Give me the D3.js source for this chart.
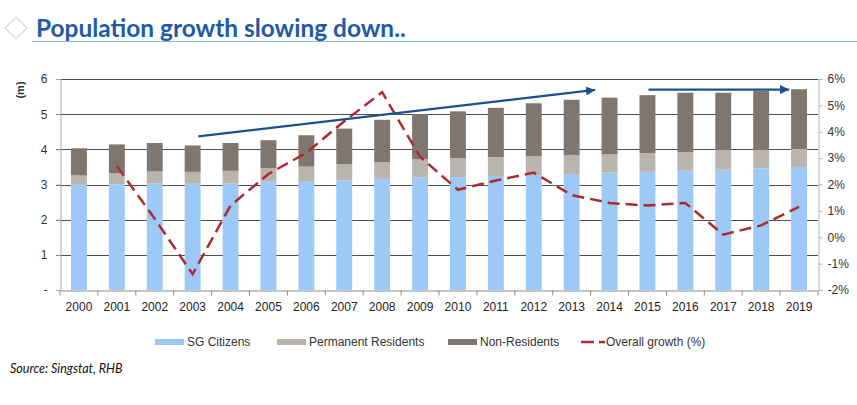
<!DOCTYPE html>
<html>
<head>
<meta charset="utf-8">
<script src="https://cdn.jsdelivr.net/npm/d3@7"></script>
<style>
  html, body { margin: 0; padding: 0; background: #fff; }
  svg { display: block; }
</style>
</head>
<body>
<svg id="chart" width="857" height="405"></svg>
<script>
// ---- DATA ----
const years = ["2000","2001","2002","2003","2004","2005","2006","2007","2008","2009",
               "2010","2011","2012","2013","2014","2015","2016","2017","2018","2019"];
const citizens = [2.99, 3.00, 3.03, 3.02, 3.03, 3.08, 3.10, 3.12, 3.16, 3.20,
                  3.21, 3.24, 3.27, 3.30, 3.34, 3.36, 3.39, 3.42, 3.46, 3.50];
const permanentResidents = [0.27, 0.32, 0.34, 0.34, 0.36, 0.38, 0.41, 0.46, 0.48, 0.52,
                            0.54, 0.54, 0.53, 0.54, 0.52, 0.53, 0.53, 0.55, 0.52, 0.51];
const nonResidents = [0.77, 0.82, 0.81, 0.75, 0.79, 0.80, 0.89, 1.01, 1.20, 1.28,
                      1.33, 1.40, 1.51, 1.57, 1.61, 1.65, 1.69, 1.64, 1.68, 1.70];
const overallGrowth = [null, 2.7, 0.7, -1.4, 1.2, 2.4, 3.2, 4.4, 5.5, 3.05,
                       1.8, 2.15, 2.45, 1.6, 1.3, 1.2, 1.3, 0.1, 0.45, 1.15];
const leftTicks = [0, 1, 2, 3, 4, 5, 6];
const rightTicks = [-2, -1, 0, 1, 2, 3, 4, 5, 6];
const seriesNames = ["SG Citizens", "Permanent Residents", "Non-Residents", "Overall growth (%)"];
// trend arrows: fractional category index and value (m)
const trendArrows = [
  { i0: 3.15, v0: 4.37, i1: 13.62, v1: 5.69 },
  { i0: 15.03, v0: 5.70, i1: 18.74, v1: 5.70 }
];
const titleText = "Population growth slowing down..";
const sourceText = "Source: Singstat, RHB";

// ---- STYLE ----
const colors = { cit: "#9dc9f7", pr: "#bab4af", nr: "#7f7670", line: "#ab2b2f", arrow: "#1d4f8f" };
const margin = { left: 60, right: 857 - 818, top: 79, bottom: 405 - 290 };
const W = 857, H = 405;

const svg = d3.select("#chart");

// Title
svg.append("path")
  .attr("d", "M16,17 L27,28 L16,39 L5,28 Z")
  .attr("fill", "none").attr("stroke", "#d6d6d6").attr("stroke-width", 1.2);
const title = svg.append("text")
  .attr("x", 36).attr("y", 37)
  .attr("font-family", "Lato, 'Open Sans', sans-serif")
  .attr("font-weight", "bold")
  .attr("font-size", 24)
  .attr("fill", "#1f5aa6")
  .text(titleText);
const tw = title.node().getComputedTextLength();
title.attr("font-size", 24 * 370 / tw);
svg.append("line").attr("x1", 32).attr("x2", 857).attr("y1", 41.5).attr("y2", 41.5)
  .attr("stroke", "#7cc3d9").attr("stroke-width", 1);

// Scales
const x = d3.scaleBand().domain(years).range([margin.left, W - margin.right]).paddingInner(0.58).paddingOuter(0.29);
const y = d3.scaleLinear().domain([0, 6]).range([H - margin.bottom, margin.top]);
const y2 = d3.scaleLinear().domain([-2, 6]).range([H - margin.bottom, margin.top]);
const step = (W - margin.right - margin.left) / years.length;
const fx = i => margin.left + (i + 0.5) * step;

const font = "'Liberation Sans', Arial, sans-serif";

// Gridlines
svg.append("g").selectAll("line").data(leftTicks.filter(d => d > 0)).join("line")
  .attr("x1", margin.left - 4).attr("x2", W - margin.right)
  .attr("y1", d => Math.round(y(d)) + 0.5).attr("y2", d => Math.round(y(d)) + 0.5)
  .attr("stroke", "#4f4f4f").attr("stroke-width", 1);

// Stacked bars
const stackData = years.map((yr, i) => ({ year: yr, cit: citizens[i], pr: permanentResidents[i], nr: nonResidents[i] }));
const stack = d3.stack().keys(["cit", "pr", "nr"])(stackData);
svg.append("g").selectAll("g").data(stack).join("g")
  .attr("fill", d => colors[d.key])
  .selectAll("rect").data(d => d).join("rect")
  .attr("x", d => x(d.data.year))
  .attr("width", x.bandwidth())
  .attr("y", d => y(d[1]))
  .attr("height", d => y(d[0]) - y(d[1]));

// Left axis
const leftAxis = d3.axisLeft(y).tickValues(leftTicks).tickSize(4).tickPadding(9)
  .tickFormat(d => d === 0 ? "-" : d);
const gl = svg.append("g").attr("transform", `translate(${margin.left + 0.5},0)`).call(leftAxis);
gl.select(".domain").attr("stroke", "#a6a6a6");
gl.selectAll(".tick line").attr("stroke", "#a6a6a6");
gl.selectAll("text").attr("font-family", font).attr("font-size", 12).attr("fill", "#333");

// Right axis
const rightAxis = d3.axisRight(y2).tickValues(rightTicks).tickSize(4).tickPadding(5)
  .tickFormat(d => d + "%");
const gr = svg.append("g").attr("transform", `translate(${W - margin.right + 0.5},0)`).call(rightAxis);
gr.select(".domain").attr("stroke", "#b5b5b5");
gr.selectAll(".tick line").attr("stroke", "#b5b5b5");
gr.selectAll("text").attr("font-family", font).attr("font-size", 12).attr("fill", "#333");

// Bottom axis
const gb = svg.append("g").attr("transform", `translate(0,${H - margin.bottom + 0.5})`)
  .call(d3.axisBottom(x).tickSize(0).tickPadding(12));
gb.select(".domain").attr("stroke", "#8c8c8c");
gb.selectAll("text").attr("font-family", font).attr("font-size", 12).attr("fill", "#222");
gb.append("g").selectAll("line").data(d3.range(years.length + 1)).join("line")
  .attr("x1", i => margin.left + i * step).attr("x2", i => margin.left + i * step)
  .attr("y1", 0).attr("y2", 5).attr("stroke", "#8c8c8c");

// Axis label (m)
svg.append("text").attr("transform", "translate(24,90) rotate(-90)")
  .attr("text-anchor", "middle").attr("font-family", font).attr("font-size", 11)
  .attr("font-weight", "bold").attr("fill", "#333").text("(m)");

// Growth line
const lineGen = d3.line()
  .defined(d => d.v !== null)
  .x(d => x(d.year) + x.bandwidth() / 2)
  .y(d => y2(d.v));
svg.append("path")
  .datum(years.map((yr, i) => ({ year: yr, v: overallGrowth[i] })))
  .attr("d", lineGen)
  .attr("fill", "none").attr("stroke", colors.line).attr("stroke-width", 2.5)
  .attr("stroke-dasharray", "12,6");

// Arrows
const defs = svg.append("defs");
defs.append("marker").attr("id", "ah").attr("viewBox", "0 0 10 10")
  .attr("refX", 10).attr("refY", 5).attr("markerWidth", 4).attr("markerHeight", 4)
  .attr("markerUnits", "strokeWidth").attr("orient", "auto")
  .append("path").attr("d", "M0,0 L10,5 L0,10 Z").attr("fill", colors.arrow);
svg.append("g").selectAll("line").data(trendArrows).join("line")
  .attr("x1", d => fx(d.i0)).attr("y1", d => y(d.v0))
  .attr("x2", d => fx(d.i1)).attr("y2", d => y(d.v1))
  .attr("stroke", colors.arrow).attr("stroke-width", 2.3)
  .attr("marker-end", "url(#ah)");

// Legend
const legendItems = [
  { name: seriesNames[0], type: "rect", color: colors.cit, sx: 155, tx: 187 },
  { name: seriesNames[1], type: "rect", color: colors.pr, sx: 277, tx: 309 },
  { name: seriesNames[2], type: "rect", color: colors.nr, sx: 448, tx: 480 },
  { name: seriesNames[3], type: "line", color: colors.line, sx: 581, tx: 606 }
];
const lg = svg.append("g");
legendItems.forEach(it => {
  if (it.type === "rect") {
    lg.append("rect").attr("x", it.sx).attr("y", 339).attr("width", 29).attr("height", 6).attr("fill", it.color);
  } else {
    lg.append("line").attr("x1", it.sx).attr("x2", it.sx + 13).attr("y1", 342).attr("y2", 342)
      .attr("stroke", it.color).attr("stroke-width", 2.5);
    lg.append("line").attr("x1", it.sx + 18).attr("x2", it.sx + 24).attr("y1", 342).attr("y2", 342)
      .attr("stroke", it.color).attr("stroke-width", 2.5);
  }
  lg.append("text").attr("x", it.tx).attr("y", 346)
    .attr("font-family", font).attr("font-size", 12).attr("fill", "#333").text(it.name);
});

// Source
svg.append("text").attr("x", 10).attr("y", 373)
  .attr("font-family", "Lato, 'Open Sans', sans-serif").attr("font-style", "italic")
  .attr("font-size", 12.5).attr("fill", "#111").text(sourceText);
</script>
</body>
</html>
